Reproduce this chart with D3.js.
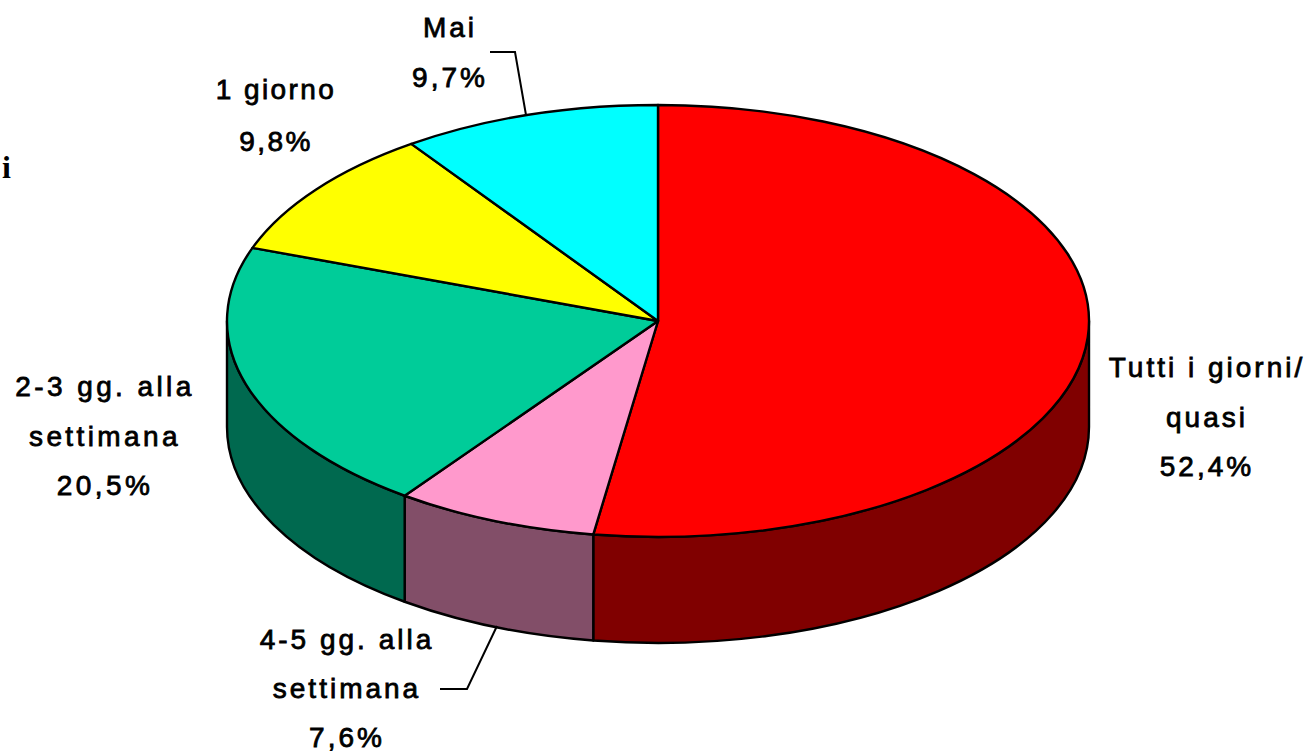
<!DOCTYPE html>
<html>
<head>
<meta charset="utf-8">
<script src="https://cdn.jsdelivr.net/npm/d3@7"></script>
<style>
  html, body { margin: 0; padding: 0; background: #fff; overflow: hidden; }
  svg { display: block; }
  text { font-family: "Liberation Sans", Arial, sans-serif; font-size: 28px; fill: #000; stroke: #000; stroke-width: 0.8px; text-anchor: middle; }
</style>
</head>
<body>
<svg width="1310" height="752"></svg>
<script>
// data, clockwise from 12 o'clock
const categories = ['Tutti i giorni/ quasi', '4-5 gg. alla settimana', '2-3 gg. alla settimana', '1 giorno', 'Mai'];
const values = [52.4, 7.6, 20.5, 9.8, 9.7];
const valueLabels = ['52,4%', '7,6%', '20,5%', '9,8%', '9,7%'];
const labelLines = [['Tutti i giorni/', 'quasi'], ['4-5 gg. alla', 'settimana'], ['2-3 gg. alla', 'settimana'], ['1 giorno'], ['Mai']];

// styles and layout, kept apart from the values
const topColors = ['#ff0000', '#ff99cc', '#00cc99', '#ffff00', '#00ffff'];
const wallColors = ['#800000', '#824e68', '#00694f', '#808000', '#008080'];
const labelAnchors = [[1207, 377], [347, 649], [105, 396], [276, 99], [450, 37]];
const lineStep = [49.5, 49, 49.5, 52, 50];
const labelSpacing = [3, 3, 3.4, 2.4, 3];
const leaders = [[[490, 52], [515, 52], [526, 115]], [[440, 689], [467, 689], [497, 626]]];

const cx = 658, cy = 321, rx = 431, ry = 216, depth = 106;

const svg = d3.select('svg');

const x = d3.scaleLinear().domain([-1, 1]).range([cx - rx, cx + rx]);
const y = d3.scaleLinear().domain([-1, 1]).range([cy - ry, cy + ry]);

const slices = d3.pie().sort(null).value(function(d) { return d; })(values);

function pointX(a) { return x(Math.sin(a)); }
function pointY(a) { return y(-Math.cos(a)); }

// side wall of a slice, only the part of the rim that faces the viewer
function wallPath(d) {
  const a0 = Math.max(d.startAngle, Math.PI / 2);
  const a1 = Math.min(d.endAngle, Math.PI * 1.5);
  if (a0 >= a1) return null;
  return 'M' + pointX(a0) + ',' + pointY(a0) +
    'A' + rx + ',' + ry + ' 0 0 1 ' + pointX(a1) + ',' + pointY(a1) +
    'L' + pointX(a1) + ',' + (pointY(a1) + depth) +
    'A' + rx + ',' + ry + ' 0 0 0 ' + pointX(a0) + ',' + (pointY(a0) + depth) + 'Z';
}

svg.append('g').selectAll('path')
  .data(slices.filter(wallPath))
  .enter().append('path')
  .attr('d', wallPath)
  .attr('fill', function(d) { return wallColors[d.index]; })
  .attr('stroke', '#000').attr('stroke-width', 2.4).attr('stroke-linejoin', 'round');

// top face: plain d3.arc squashed into the ellipse
const arc = d3.arc().innerRadius(0).outerRadius(rx);
svg.append('g')
  .attr('transform', 'translate(' + cx + ',' + cy + ') scale(1,' + (ry / rx) + ')')
  .selectAll('path')
  .data(slices)
  .enter().append('path')
  .attr('d', arc)
  .attr('fill', function(d) { return topColors[d.index]; })
  .attr('stroke', '#000').attr('stroke-width', 2.4).attr('stroke-linejoin', 'round')
  .attr('vector-effect', 'non-scaling-stroke');

// leader lines
svg.append('g').selectAll('path')
  .data(leaders)
  .enter().append('path')
  .attr('d', d3.line())
  .attr('fill', 'none').attr('stroke', '#000').attr('stroke-width', 2);

// labels, name lines then the value
const labels = svg.append('g').selectAll('text')
  .data(categories)
  .enter().append('text')
  .attr('letter-spacing', function(d, i) { return labelSpacing[i]; });

labels.each(function(d, i) {
  const lines = labelLines[i].concat(valueLabels[i]);
  d3.select(this).selectAll('tspan')
    .data(lines)
    .enter().append('tspan')
    .attr('x', labelAnchors[i][0])
    .attr('y', function(t, j) { return labelAnchors[i][1] + j * lineStep[i]; })
    .text(function(t) { return t; });
});

// cut off title at the left edge of the slide
svg.append('text')
  .attr('x', 11).attr('y', 178)
  .style('font-family', '"Liberation Serif", serif')
  .style('font-size', '32px')
  .style('font-weight', 'bold')
  .style('stroke', 'none')
  .style('text-anchor', 'end')
  .text('i');
</script>
</body>
</html>
